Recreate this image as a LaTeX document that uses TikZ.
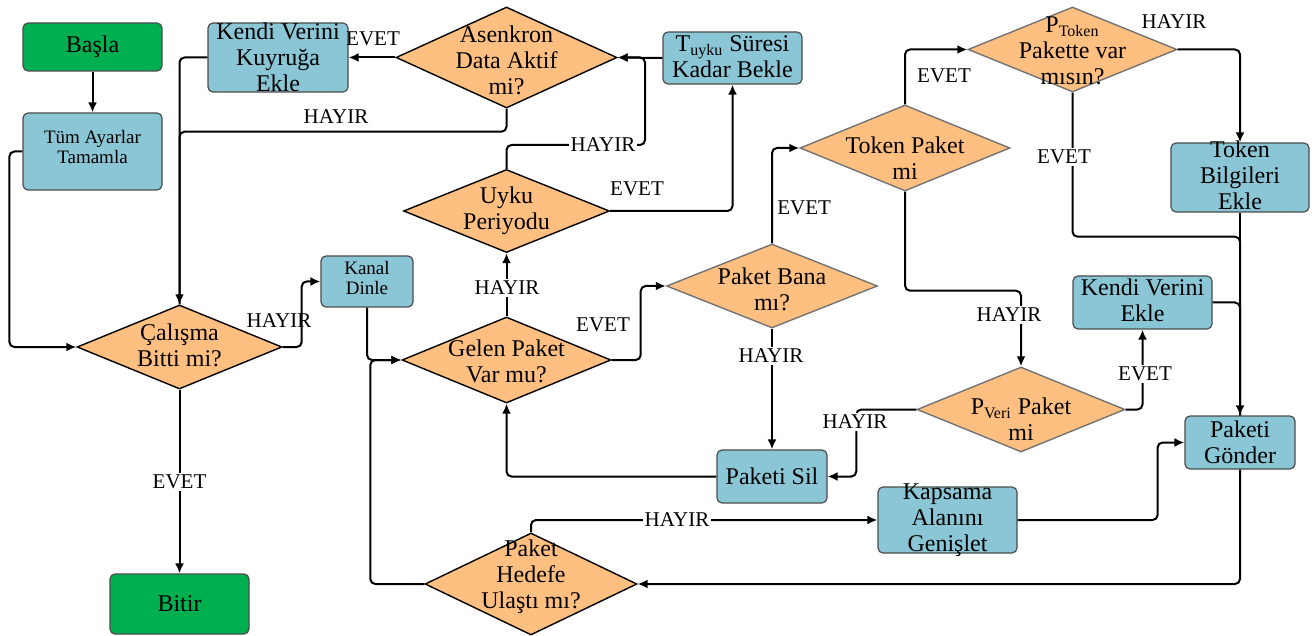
\documentclass[tikz,border=0pt]{standalone}
\usepackage{fontspec}
\setmainfont{Liberation Serif}
\usetikzlibrary{shapes.geometric,arrows.meta}
\definecolor{boxblue}{RGB}{139,198,214}
\definecolor{startgreen}{RGB}{0,176,80}
\definecolor{decorange}{RGB}{255,191,128}
\tikzset{
  proc/.style={draw=black!70, line width=0.6pt, rounded corners=2.5pt, fill=boxblue, inner sep=0pt},
  term/.style={proc, fill=startgreen},
  dec/.style={diamond, draw=black, line width=0.7pt, fill=decorange, inner sep=0pt},
  decg/.style={dec, draw=black!55},
  txt/.style={align=center, font=\fontsize{12}{13}\selectfont, inner sep=0pt},
  smalltxt/.style={align=center, font=\fontsize{9.5}{10}\selectfont, inner sep=0pt},
  lbl/.style={font=\fontsize{10.5}{12}\selectfont, inner sep=1pt},
  lblw/.style={lbl, fill=white},
  conn/.style={line width=1pt, rounded corners=2.5pt},
  arr/.style={conn, -{Latex[length=5pt,width=4.5pt]}},
}
\begin{document}
\begin{tikzpicture}[x=0.5pt,y=-0.5pt]
\useasboundingbox (0,0) rectangle (1312,636);

% ---------- process boxes ----------
\node[term, minimum width=69.5pt, minimum height=24pt] (basla) at (92.5,47) {};
\node[txt] (basla-t) at (basla) {Başla};
\node[proc, minimum width=69.5pt, minimum height=38.5pt] (tum) at (92.5,151.5) {};
\node[smalltxt, yshift=2pt] (tum-t) at (tum) {Tüm Ayarlar\\Tamamla};
\node[proc, minimum width=70pt, minimum height=34.5pt] (kvk) at (278,57.5) {};
\node[txt] (kvk-t) at (kvk) {Kendi Verini\\Kuyruğa\\Ekle};
\node[proc, minimum width=69.5pt, minimum height=26pt] (tuyku) at (732.5,58) {};
\node[txt, yshift=0.7pt] (tuyku-t) at (tuyku) {T\textsubscript{uyku} Süresi\\Kadar Bekle};
\node[proc, minimum width=69pt, minimum height=34.5pt] (tbilgi) at (1240,177.5) {};
\node[txt, yshift=1pt] (tbilgi-t) at (tbilgi) {Token\\Bilgileri\\Ekle};
\node[proc, minimum width=46pt, minimum height=25.5pt] (kanal) at (367,281.5) {};
\node[smalltxt, yshift=1.5pt] (kanal-t) at (kanal) {Kanal\\Dinle};
\node[term, minimum width=69.5pt, minimum height=30pt] (bitir) at (179.5,604) {};
\node[txt] (bitir-t) at (bitir) {Bitir};
\node[proc, minimum width=55pt, minimum height=26.5pt] (sil) at (772,476.5) {};
\node[txt] (sil-t) at (sil) {Paketi Sil};
\node[proc, minimum width=69.5pt, minimum height=26.5pt] (kve) at (1142.5,302.5) {};
\node[txt, yshift=1pt] (kve-t) at (kve) {Kendi Verini\\Ekle};
\node[proc, minimum width=55pt, minimum height=26.5pt] (gonder) at (1240,442.5) {};
\node[txt] (gonder-t) at (gonder) {Paketi\\Gönder};
\node[proc, minimum width=69.5pt, minimum height=33pt] (kapsama) at (947.5,520) {};
\node[txt] (kapsama-t) at (kapsama) {Kapsama\\Alanını\\Genişlet};

% ---------- decisions ----------
\node[dec, minimum width=110.5pt, minimum height=50.5pt] (asenk) at (506.5,57.5) {};
\node[txt, yshift=-1.5pt] (asenk-t) at (asenk) {Asenkron\\Data Aktif\\mi?};
\node[dec, minimum width=103pt, minimum height=41.5pt] (uyku) at (506.5,211) {};
\node[txt] (uyku-t) at (uyku) {Uyku\\Periyodu};
\node[decg, minimum width=105pt, minimum height=43pt] (token) at (905,148) {};
\node[txt, yshift=-5pt] (token-t) at (token) {Token Paket\\mi};
\node[decg, minimum width=104.5pt, minimum height=42.5pt] (ptoken) at (1072.5,49.5) {};
\node[txt, yshift=-0.7pt] (ptoken-t) at (ptoken) {P\textsubscript{Token}\\Pakette var\\mısın?};
\node[dec, minimum width=102.5pt, minimum height=42pt] (cal) at (179.5,347) {};
\node[txt, yshift=1pt] (cal-t) at (cal) {Çalışma\\Bitti mi?};
\node[dec, minimum width=104.5pt, minimum height=43pt] (gelen) at (506.5,360) {};
\node[txt, yshift=-0.7pt] (gelen-t) at (gelen) {Gelen Paket\\Var mu?};
\node[decg, minimum width=105.5pt, minimum height=42pt] (bana) at (772,286) {};
\node[txt, yshift=-1.5pt] (bana-t) at (bana) {Paket Bana\\mı?};
\node[decg, minimum width=104pt, minimum height=42.5pt] (pveri) at (1021,409.5) {};
\node[txt, yshift=-5pt] (pveri-t) at (pveri) {P\textsubscript{Veri} Paket\\mi};
\node[dec, minimum width=106pt, minimum height=51pt] (hedef) at (531,584) {};
\node[txt, yshift=3.5pt] (hedef-t) at (hedef) {Paket\\Hedefe\\Ulaştı mı?};

% ---------- connectors ----------
\draw[arr] (basla) -- (tum);
\draw[arr] (tum.west) -- ++(-13,0) |- (cal.west);
\draw[arr] (kvk.west) -| (cal.north);
\draw[conn] (asenk.south) -- ++(0,23) -| (cal.north);
\draw[arr] (asenk.west) -- (kvk.east);
\draw[arr] (tuyku.west) -- (asenk.east);
\draw[arr] (uyku.north) |- (645,145) |- (asenk.east);
\draw[arr] (uyku.east) -| (tuyku.south);
\draw[arr] (gelen.north) -- (uyku.south);
\draw[arr] (kanal.south) |- (gelen.west);
\draw[arr] (cal.east) -- ++(19,0) |- (kanal.west);
\draw[arr] (cal.south) -- (bitir.north);
\draw[arr] (gelen.east) -- ++(29,0) |- (bana.west);
\draw[arr] (bana.north) |- (token.west);
\draw[arr] (bana.south) -- (sil.north);
\draw[arr] (sil.west) -| (gelen.south);
\draw[arr] (token.north) |- (ptoken.west);
\draw[arr] (token.south) -- ++(0,99) -| (pveri.north);
\draw[arr] (ptoken.east) -| (tbilgi.north);
\draw[conn] (ptoken.south) -- ++(0,144) -| (gonder.north);
\draw[arr] (tbilgi.south) -- (gonder.north);
\draw[conn] (kve.east) -| (gonder.north);
\draw[arr] (pveri.east) -| (kve.south);
\draw[arr] (pveri.west) -- ++(-60,0) |- (sil.east);
\draw[arr] (kapsama.east) -- ++(140,0) |- (gonder.west);
\draw[arr] (gonder.south) |- (hedef.east);
\draw[arr] (hedef.north) |- (kapsama.west);
\draw[arr] (hedef.west) -- ++(-54,0) |- (gelen.west);

% ---------- branch labels ----------
\node[lbl] (l-calno) at (279,321) {HAYIR};
\node[lblw] (l-calyes) at (179.5,482) {EVET};
\node[lbl] (l-asno) at (336,117) {HAYIR};
\node[lbl] (l-asyes) at (373,39) {EVET};
\node[lblw] (l-uyno) at (603,145) {HAYIR};
\node[lbl] (l-uyyes) at (637,189) {EVET};
\node[lblw] (l-gelno) at (507,288) {HAYIR};
\node[lbl] (l-gelyes) at (603,325) {EVET};
\node[lbl, anchor=west] (l-banayes) at (775,208) {EVET};
\node[lblw] (l-banano) at (771,356) {HAYIR};
\node[lbl] (l-tokyes) at (944,76) {EVET};
\node[lblw] (l-tokno) at (1009,315) {HAYIR};
\node[lbl] (l-ptno) at (1174,22) {HAYIR};
\node[lblw] (l-ptyes) at (1064,157) {EVET};
\node[lblw] (l-pvyes) at (1145,374) {EVET};
\node[lblw] (l-pvno) at (855,422) {HAYIR};
\node[lblw] (l-hedno) at (677,520) {HAYIR};
\end{tikzpicture}
\end{document}
